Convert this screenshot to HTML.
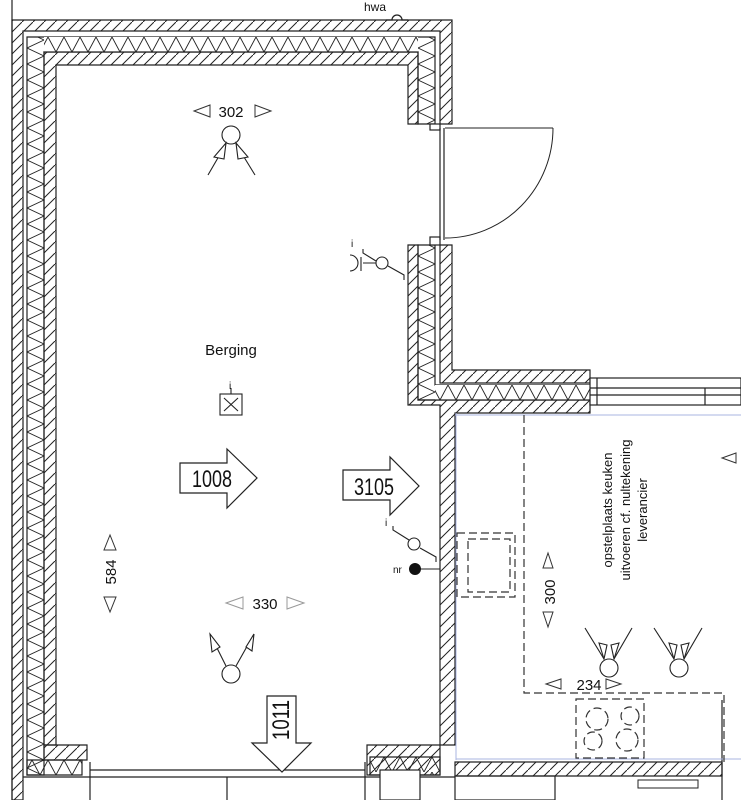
<!DOCTYPE html>
<html><head><meta charset="utf-8"><style>
html,body{margin:0;padding:0;background:#fff;}
svg{display:block;}
text{font-family:"Liberation Sans",sans-serif;fill:#111;}
</style></head><body>
<svg width="741" height="800" viewBox="0 0 741 800" xmlns="http://www.w3.org/2000/svg">
<defs>
<pattern id="h" patternUnits="userSpaceOnUse" width="11" height="11">
<path d="M-2,13 L13,-2" stroke="#222" stroke-width="1"/>
</pattern>
<pattern id="zv" patternUnits="userSpaceOnUse" width="17" height="16" patternTransform="translate(10,0)">
<path d="M0,0 L17,8 L0,16" stroke="#222" stroke-width="0.9" fill="none"/>
</pattern>
<pattern id="zh" patternUnits="userSpaceOnUse" width="16" height="15" patternTransform="translate(0,7)">
<path d="M0,0 L8,15 L16,0" stroke="#222" stroke-width="0.9" fill="none"/>
</pattern>
<pattern id="zh2" patternUnits="userSpaceOnUse" width="16" height="15" patternTransform="translate(0,10)">
<path d="M0,0 L8,15 L16,0" stroke="#222" stroke-width="0.9" fill="none"/>
</pattern>
</defs>
<g stroke="#222" stroke-width="1.2">
<line x1="12" y1="0" x2="12" y2="800"/>
<path d="M12,20 H452 V124 H440 V31 H23 V800 H12 Z" fill="url(#h)"/>
<path d="M27,37 H435 V124 H418 V52 H44 V775 H27 Z" fill="url(#zv)"/>
<rect x="44" y="37" width="374" height="15" fill="#fff" stroke="none"/>
<rect x="44" y="37" width="374" height="15" fill="url(#zh)" stroke="none"/>
<path d="M44,52 H418 V124 H408 V65 H56 V745 H44 Z" fill="url(#h)"/>
<path d="M440,245 H452 V370 H590 V383 H440 Z" fill="url(#h)"/>
<path d="M418,245 H435 V385 H590 V400 H418 Z" fill="url(#zv)"/>
<rect x="435" y="385" width="155" height="15" fill="#fff" stroke="none"/>
<rect x="435" y="385" width="155" height="15" fill="url(#zh2)" stroke="none"/>
<path d="M408,245 H418 V400 H590 V413 H455 V745 H440 V405 H408 Z" fill="url(#h)"/>
<rect x="590" y="378" width="151" height="27" fill="#fff"/>
<line x1="590" y1="388" x2="741" y2="388"/><line x1="590" y1="395" x2="741" y2="395"/>
<line x1="597" y1="378" x2="597" y2="405"/><line x1="705" y1="388" x2="705" y2="405"/>
<rect x="430" y="124" width="10" height="6" fill="#fff"/>
<rect x="430" y="237" width="10" height="8" fill="#fff"/>
<line x1="440" y1="128" x2="440" y2="240"/><line x1="444" y1="128" x2="444" y2="240"/>
<line x1="445" y1="128" x2="553" y2="128" stroke-width="1"/>
<path d="M553,128 A108,110 0 0 1 445,238" fill="none" stroke-width="1"/>
<path d="M44,745 H87 V760 H44 Z" fill="url(#h)"/>
<path d="M27,760 H82 V775 H27 Z" fill="url(#zh2)" stroke="#222"/>
<line x1="23" y1="777" x2="455" y2="777"/>
<line x1="90" y1="770" x2="365" y2="770"/>
<line x1="90" y1="762" x2="90" y2="800"/><line x1="365" y1="762" x2="365" y2="800"/>
<line x1="227" y1="777" x2="227" y2="800"/>
<path d="M367,745 H440 V775 H367 Z" fill="url(#h)"/>
<path d="M370,757 H440 V775 H370 Z" fill="url(#zh)"/>
<rect x="380" y="770" width="40" height="30" fill="#fff"/>
<path d="M455,762 H722 V776 H455 Z" fill="url(#h)"/>
<line x1="722" y1="700" x2="722" y2="800"/>
<rect x="455" y="776" width="100" height="24" fill="none"/>
<rect x="638" y="780" width="60" height="8" fill="none" stroke-width="1"/>
</g>
<g stroke="#aab4e0" stroke-width="1" fill="none">
<line x1="455" y1="415" x2="741" y2="415"/>
<line x1="456" y1="413" x2="456" y2="760"/>
<line x1="456" y1="759" x2="741" y2="759"/>
</g>
<g stroke="#333" stroke-width="1.2" fill="none" stroke-dasharray="8,4">
<path d="M524,415 V693 H724 V762"/>
<rect x="457" y="533" width="58" height="64"/>
<rect x="468" y="539" width="42" height="53"/>
<rect x="576" y="699" width="68" height="59"/>
<circle cx="597" cy="719" r="11"/><circle cx="630" cy="716" r="9"/>
<circle cx="593" cy="741" r="9"/><circle cx="627" cy="740" r="11"/>
</g>
<g font-size="13" text-anchor="middle">
<text transform="translate(612,510) rotate(-90)">opstelplaats keuken</text>
<text transform="translate(630,510) rotate(-90)">uitvoeren cf. nultekening</text>
<text transform="translate(647,510) rotate(-90)">leverancier</text>
</g>
<g stroke="#333" fill="none" stroke-width="1">
<path d="M548,553 l-5,15 h10 z M548,627 l-5,-15 h10 z"/>
<path d="M722,458 l14,-5 v10 z"/>
<path d="M546,684 l15,-5 v10 z M621,684 l-15,-5 v10 z"/>
</g>
<text x="555" y="592" font-size="15" transform="rotate(-90 555 592)" text-anchor="middle">300</text>
<text x="589" y="690" font-size="15" text-anchor="middle">234</text>
<g stroke="#222" fill="#fff" stroke-width="1.1">
<circle cx="609" cy="668" r="9"/><circle cx="679" cy="668" r="9"/>
<path d="M585,628 L604,659 M632,628 L614,659 M654,628 L674,659 M702,628 L684,659" fill="none"/>
<path d="M599,643 l5,16 l3,-14 z M619,643 l-5,16 l-3,-14 z M669,643 l5,16 l3,-14 z M689,643 l-5,16 l-3,-14 z"/>
</g>
<text x="231" y="355" font-size="15" text-anchor="middle">Berging</text>
<text x="231" y="117" font-size="15" text-anchor="middle">302</text>
<g stroke="#333" fill="none" stroke-width="1">
<path d="M194,111 l16,-6 v12 z M271,111 l-16,-6 v12 z"/>
<path d="M110,535 l-6,15 h12 z M110,612 l-6,-15 h12 z"/>
</g>
<g stroke="#999" fill="none" stroke-width="1">
<path d="M226,603 l17,-6 v12 z M304,603 l-17,-6 v12 z"/>
</g>
<text x="265" y="609" font-size="15" text-anchor="middle">330</text>
<text x="116" y="572" font-size="15" text-anchor="middle" transform="rotate(-90 116 572)">584</text>
<text x="375" y="11" font-size="12" text-anchor="middle">hwa</text>
<path d="M386,20 h6 a5,5 0 1 1 10,0 h6" stroke="#222" fill="none" stroke-width="1.3"/>
<g stroke="#222" fill="#fff" stroke-width="1.1">
<circle cx="231" cy="135" r="9"/>
<path d="M226,144 L208,175 M236,144 L255,175" fill="none"/>
<path d="M226,143 l-12,14 l10,2 z M236,143 l12,14 l-10,2 z"/>
<circle cx="231" cy="674" r="9"/>
<path d="M226,666 L210,634 M236,666 L254,634" fill="none"/>
<path d="M210,634 l2,18 l8,-5 z M254,634 l-8,13 l6,4 z"/>
</g>
<g stroke="#222" fill="none" stroke-width="1.1">
<rect x="220" y="394" width="22" height="21"/>
<path d="M224,398 l14,13 M238,398 l-14,13 M231,388 v6"/>
</g>
<text x="229" y="389" font-size="10">i</text>
<g stroke="#222" fill="none" stroke-width="1.1">
<circle cx="382" cy="263" r="6"/>
<path d="M363,249 v4 l13,8 M388,266 l16,9 v5 M363,263 h13 M361,257 v14"/>
<path d="M350,255 a8,8 0 0 1 0,16"/>
</g>
<text x="351" y="247" font-size="10">i</text>
<g stroke="#222" fill="none" stroke-width="1.1">
<circle cx="414" cy="544" r="6"/>
<path d="M393,526 v4 l16,10 M420,548 l16,9 v5 M415,569 h25"/>
</g>
<circle cx="415" cy="569" r="6" fill="#111"/>
<text x="385" y="526" font-size="10">i</text>
<text x="393" y="573" font-size="10">nr</text>
<g stroke="#222" fill="#fff" stroke-width="1.2">
<path d="M180,463 H227 V449 L257,478 L227,508 V493 H180 Z"/>
<path d="M343,470 H390 V457 L419,486 L390,515 V500 H343 Z"/>
<path d="M267,696 H296 V743 H311 L282,772 L252,743 H267 Z"/>
</g>
<g font-size="24" text-anchor="middle">
<text x="212" y="487" textLength="40" lengthAdjust="spacingAndGlyphs">1008</text>
<text x="374" y="495" textLength="40" lengthAdjust="spacingAndGlyphs">3105</text>
<text x="281" y="720" transform="rotate(-90 281 720)" dy="8" textLength="40" lengthAdjust="spacingAndGlyphs">1011</text>
</g>
</svg>
</body></html>
